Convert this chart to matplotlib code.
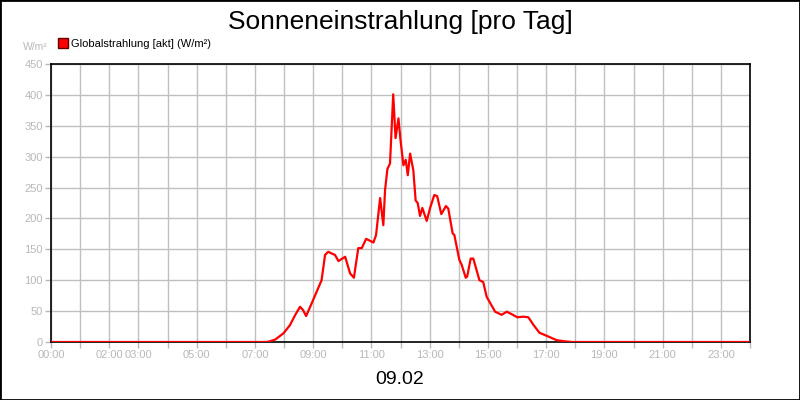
import matplotlib.pyplot as plt
from matplotlib.lines import Line2D
from matplotlib.patches import Rectangle

plt.rcParams['font.family'] = ['Liberation Sans', 'DejaVu Sans']

# time of day in hours, irradiance in W/m²
hours = [0, 7.4, 7.5, 7.7, 7.98, 8.2, 8.4, 8.55, 8.65, 8.76, 9.0, 9.29,
         9.41, 9.52, 9.65, 9.75, 9.87, 10.1, 10.27, 10.4, 10.55, 10.67,
         10.82, 11.07, 11.16, 11.3, 11.41, 11.47, 11.55, 11.64, 11.75,
         11.83, 11.93, 12.0, 12.1, 12.18, 12.25, 12.33, 12.44, 12.52, 12.59,
         12.67, 12.75, 12.9, 13.01, 13.16, 13.26, 13.4, 13.56, 13.64, 13.79,
         13.85, 14.02, 14.1, 14.24, 14.29, 14.41, 14.5, 14.71, 14.84, 14.96,
         15.25, 15.47, 15.65, 15.82, 16.01, 16.22, 16.39, 16.56, 16.77,
         17.02, 17.36, 17.65, 17.9, 24]
values = [0, 0, 1, 4, 14, 27, 45, 57, 52, 42, 68, 100,
          141, 146, 143, 141, 131, 138, 111, 104, 152, 152,
          167, 161, 173, 233, 189, 246, 280, 289, 401,
          330, 362, 327, 286, 295, 270, 305, 278, 229, 225,
          204, 217, 196, 216, 238, 236, 207, 220, 216, 176,
          173, 133, 125, 104, 106, 135, 135, 100, 97, 73,
          49, 44, 49, 45, 40, 41, 40, 28, 15,
          10, 3, 1, 0, 0]

tick_hours = [0, 2, 3, 5, 7, 9, 11, 13, 15, 17, 19, 21, 23]
tick_labels = ['00:00', '02:00', '03:00', '05:00', '07:00', '09:00', '11:00',
               '13:00', '15:00', '17:00', '19:00', '21:00', '23:00']
y_ticks = list(range(0, 451, 50))

fig = plt.figure(figsize=(8, 4), dpi=100, facecolor='white')
ax = fig.add_axes([0.06375, 0.145, 0.87375, 0.695])

ax.plot(hours, values, color='#ff0000', linewidth=1.6, zorder=3)

ax.set_xlim(0, 24)
ax.set_ylim(0, 450)
ax.set_xticks(range(0, 25))
ax.set_xticklabels([tick_labels[tick_hours.index(h)] if h in tick_hours else ''
                    for h in range(0, 25)])
ax.set_yticks(y_ticks)
ax.grid(True, color='#c0c0c0', linewidth=1)
ax.set_axisbelow(True)
ax.tick_params(colors='#b8b8b8', labelsize=8, length=4, width=1, pad=2)
for s in ax.spines.values():
    s.set_color('black')
    s.set_linewidth(1.2)

fig.suptitle('Sonneneinstrahlung [pro Tag]', y=0.975, fontsize=19)
fig.text(0.5, 0.04, '09.02', ha='center', fontsize=14)
fig.text(0.06, 0.882, 'W/m²', ha='right', va='center', fontsize=7.5,
         color='#b8b8b8')

handle = Line2D([], [], marker='s', color='none', markerfacecolor='#ff0000',
                markeredgecolor='#600000', markersize=7)
fig.legend([handle], ['Globalstrahlung [akt] (W/m²)'], loc='center left',
           bbox_to_anchor=(0.066, 0.89), frameon=False, fontsize=8,
           handlelength=0.8, handletextpad=0.35, borderpad=0)

fig.patches.append(Rectangle((0, 0), 1, 1, transform=fig.transFigure,
                             fill=False, edgecolor='black', linewidth=2))

fig.savefig('out.png', dpi=100)
